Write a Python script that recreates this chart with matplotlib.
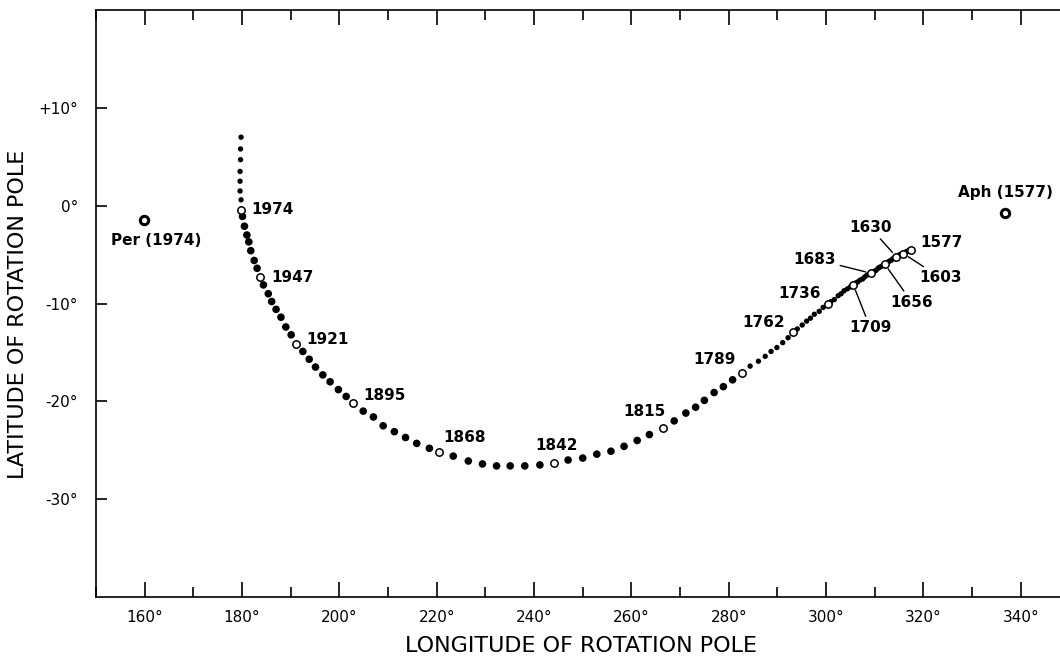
import matplotlib
matplotlib.use("Agg")
import matplotlib.pyplot as plt
import numpy as np

# ── data (degrees) ──────────────────────────────────────────────────────────
# filled dots, from the top end (above 1974) down round the arc to 1577
dot_lon = [179.8, 179.7, 179.7, 179.6, 179.6, 179.6, 179.8,
           180.1, 180.5, 181.0, 181.4, 181.8, 182.5, 183.1,
           184.4, 185.4, 186.1, 187.0, 188.0, 189.0, 190.1,
           192.5, 193.8, 195.1, 196.6, 198.1, 199.8, 201.4,
           204.9, 207.0, 209.0, 211.3, 213.6, 215.9, 218.5,
           223.4, 226.5, 229.4, 232.3, 235.1, 238.1, 241.2,
           247.0, 250.0, 252.9, 255.8, 258.5, 261.2, 263.7,
           268.8, 271.2, 273.2, 275.0, 277.0, 278.9, 280.8,
           284.4, 286.1, 287.5, 288.7, 289.9, 291.1, 292.2,
           294.1, 295.1, 296.0, 296.8, 297.6, 298.6, 299.4,
           301.0, 301.7, 302.5, 303.1, 303.7, 304.4, 305.0,
           306.1, 306.5, 307.0, 307.5, 307.9, 308.4, 308.8,
           309.5, 310.0, 310.3, 310.7, 311.0, 311.4, 311.7,
           312.4, 312.7, 312.9, 313.3, 313.6, 313.8, 314.1,
           314.6, 314.8, 315.0, 315.2, 315.4, 315.6, 315.8,
           316.1, 316.3, 316.5, 316.7, 316.9, 317.1, 317.2]
dot_lat = [7.0, 5.8, 4.7, 3.5, 2.5, 1.5, 0.6,
           -1.1, -2.1, -3.0, -3.7, -4.6, -5.6, -6.4,
           -8.1, -9.0, -9.8, -10.6, -11.4, -12.4, -13.2,
           -14.9, -15.7, -16.5, -17.3, -18.0, -18.8, -19.5,
           -21.0, -21.6, -22.5, -23.1, -23.7, -24.3, -24.8,
           -25.6, -26.1, -26.4, -26.6, -26.6, -26.6, -26.5,
           -26.0, -25.8, -25.4, -25.1, -24.6, -24.0, -23.4,
           -22.0, -21.2, -20.6, -19.9, -19.1, -18.5, -17.8,
           -16.4, -15.9, -15.4, -14.9, -14.5, -14.0, -13.5,
           -12.6, -12.2, -11.8, -11.5, -11.1, -10.8, -10.4,
           -9.8, -9.6, -9.2, -9.0, -8.7, -8.5, -8.3,
           -7.9, -7.8, -7.6, -7.5, -7.3, -7.1, -7.0,
           -6.8, -6.7, -6.6, -6.4, -6.3, -6.2, -6.1,
           -5.9, -5.8, -5.7, -5.6, -5.5, -5.4, -5.3,
           -5.2, -5.1, -5.1, -5.0, -5.0, -5.0, -4.9,
           -4.8, -4.8, -4.7, -4.7, -4.6, -4.6, -4.5]

# open circles with their years
years = [1974, 1947, 1921, 1895, 1868, 1842, 1815, 1789,
         1762, 1736, 1709, 1683, 1656, 1630, 1603, 1577]
year_lon = [179.7, 183.7, 191.0, 202.8, 220.5, 244.1, 266.4, 282.7,
            293.2, 300.4, 305.6, 309.2, 312.1, 314.4, 315.9, 317.4]
year_lat = [-0.4, -7.3, -14.1, -20.2, -25.2, -26.3, -22.7, -17.1,
            -12.9, -10.1, -8.1, -6.9, -6.0, -5.2, -4.9, -4.5]

# perihelion / aphelion poles
apsis_names = ["Per (1974)", "Aph (1577)"]
apsis_lon = [159.9, 336.8]
apsis_lat = [-1.5, -0.7]

xtick_vals = [160, 180, 200, 220, 240, 260, 280, 300, 320, 340]
xtick_text = ["160°", "180°", "200°", "220°", "240°", "260°", "280°", "300°", "320°", "340°"]
ytick_vals = [10, 0, -10, -20, -30]
ytick_text = ["+10°", "0°", "-10°", "-20°", "-30°"]

# ── label placement (pixel offsets from the circle, alignment, leader) ──────
label_style = {
    1974: ((11, 0), "left", False),
    1947: ((11, 0), "left", False),
    1921: ((11, 4), "left", False),
    1895: ((10, 8), "left", False),
    1868: ((4, 15), "left", False),
    1842: ((-19, 17), "left", False),
    1815: ((-39, 16), "left", False),
    1789: ((-49, 13), "left", False),
    1762: ((-51, 9), "left", False),
    1736: ((-50, 11), "left", False),
    1709: ((17, -43), "center", True),
    1683: ((-56, 14), "center", True),
    1656: ((27, -38), "center", True),
    1630: ((-26, 29), "center", True),
    1603: ((37, -24), "center", True),
    1577: ((10, 7), "left", False),
}

# ── figure ──────────────────────────────────────────────────────────────────
fig = plt.figure(figsize=(10.6, 6.62), dpi=100)
ax = fig.add_axes([96 / 1060, 65 / 662, 973.4 / 1060, 587 / 662])
ax.set_xlim(150, 350)
ax.set_ylim(-40, 20)

lon = np.array(dot_lon)
lat = np.array(dot_lat)
sizes = np.where((lat > 0) | (lon > 283), 15, 30)
ax.scatter(lon, lat, s=sizes, color="black", linewidths=0, zorder=2)

ax.plot(year_lon, year_lat, "o", ms=5.3, mfc="white", mec="black", mew=1.1,
        ls="none", zorder=3)

for yr, x, y in zip(years, year_lon, year_lat):
    (dx, dy), ha, leader = label_style[yr]
    props = None
    if leader:
        props = dict(arrowstyle="-", color="black", lw=1.0, shrinkA=1, shrinkB=4)
    ax.annotate(str(yr), (x, y), xytext=(dx, dy), textcoords="offset pixels",
                ha=ha, va="center", fontsize=11, fontweight="bold",
                arrowprops=props, zorder=4)

ax.plot(apsis_lon, apsis_lat, "o", ms=6, mfc="white", mec="black", mew=2.2,
        ls="none", zorder=3)
for name, x, y, off in zip(apsis_names, apsis_lon, apsis_lat, [(12, -20), (0, 20)]):
    ax.annotate(name, (x, y), xytext=off, textcoords="offset pixels",
                ha="center", va="center", fontsize=11, fontweight="bold")

# axes frame and ticks
for side in ["top", "bottom", "left", "right"]:
    ax.spines[side].set_linewidth(1.2)

ax.set_xticks(xtick_vals)
ax.set_xticklabels(xtick_text, fontsize=11)
ax.set_xticks(np.arange(150, 351, 10), minor=True)
ax.set_yticks(ytick_vals)
ax.set_yticklabels(ytick_text, fontsize=11)
ax.tick_params(axis="x", which="major", direction="in", length=11, width=1.2,
               top=True, bottom=True, pad=9)
ax.tick_params(axis="x", which="minor", direction="in", length=7, width=1.2,
               top=True, bottom=True)
ax.tick_params(axis="y", which="major", direction="in", length=8, width=1.2,
               left=True, right=False, pad=13)

ax.set_xlabel("LONGITUDE OF ROTATION POLE", fontsize=16)
ax.set_ylabel("LATITUDE OF ROTATION POLE", fontsize=16)
ax.xaxis.set_label_coords(0.498, -0.066)
ax.yaxis.set_label_coords(-0.070, 0.482)

fig.savefig("out.png", dpi=100)
